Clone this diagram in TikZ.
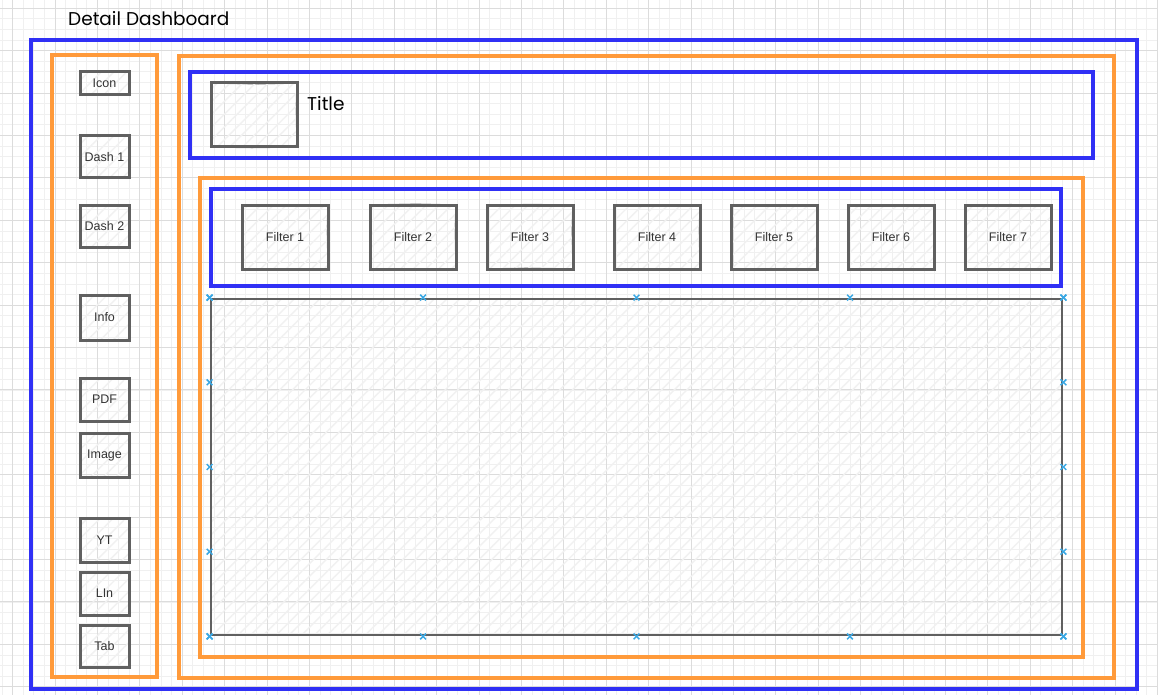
\documentclass[tikz,border=0pt]{standalone}
\usepackage{fontspec}
\setmainfont{Liberation Sans}
\newfontfamily\handfont{Poppins}
\usetikzlibrary{patterns.meta,decorations.pathmorphing,calc}
\definecolor{gblue}{HTML}{3030F5}
\definecolor{gorange}{HTML}{FF9A3A}
\definecolor{ggray}{HTML}{606060}
\definecolor{gridminor}{HTML}{F0F0F0}
\definecolor{gridmajor}{HTML}{DCDCDC}
\definecolor{xmark}{HTML}{3AA8E4}
\definecolor{hatch}{HTML}{F1F1F1}
\definecolor{txt}{HTML}{333333}
\pgfmathsetseed{4242}
\begin{document}
\begin{tikzpicture}[x=1pt,y=-1pt,
  wobble/.style={preaction={draw=#1, line width=1.2pt, opacity=0.55, decorate,
      decoration={random steps, segment length=40pt, amplitude=1.2pt}}},
  frameblue/.style={rectangle, inner sep=0pt, draw=gblue, line width=3.1pt, wobble=gblue},
  frameorange/.style={rectangle, inner sep=0pt, draw=gorange, line width=3.5pt, wobble=gorange},
  hatched/.style={pattern={Lines[angle=45,distance=9pt,line width=1.4pt]}, pattern color=hatch},
  btn/.style={rectangle, inner sep=0pt, draw=ggray, line width=3pt, wobble=ggray, hatched,
      text=txt, font=\fontsize{12.5}{14}\selectfont, minimum width=49pt},
  filt/.style={btn, minimum width=86pt, minimum height=64pt},
  content/.style={rectangle, inner sep=0pt, draw=ggray, line width=2.8pt, hatched},
  marker/.style={draw=xmark, line width=1.5pt},
  hand/.style={text=black, font=\handfont\fontsize{18.5}{20}\selectfont, inner sep=0pt, anchor=west}
]
\useasboundingbox (0,0) rectangle (1158,695);
\fill[white] (0,0) rectangle (1158,695);
% grid
\begin{scope}
\clip (0,0) rectangle (1158,695);
\foreach \i in {0,...,110} {\draw[gridminor, line width=0.8pt] ({2.0+10.6*\i},0) -- ({2.0+10.6*\i},695);}
\foreach \i in {0,...,66} {\draw[gridminor, line width=0.8pt] (0,{-2.3+10.6*\i}) -- (1158,{-2.3+10.6*\i});}
\foreach \i in {0,...,27} {\draw[gridmajor, line width=1pt] ({12.6+42.4*\i},0) -- ({12.6+42.4*\i},695);}
\foreach \i in {0,...,16} {\draw[gridmajor, line width=1pt] (0,{8.3+42.4*\i}) -- (1158,{8.3+42.4*\i});}
\end{scope}

\node[hand] (heading) at (68,19) {Detail Dashboard};

% frames
\node[frameblue, minimum width=1106pt, minimum height=649pt] (outer) at (584,364.5) {};
\node[frameorange, minimum width=105pt, minimum height=622pt] (sidebar) at (104.5,366) {};
\node[frameorange, minimum width=935pt, minimum height=622pt] (main) at (646.5,367) {};
\node[frameblue, minimum width=903pt, minimum height=86pt] (titlebar) at (641.5,115) {};
\node[btn, minimum width=86pt, minimum height=64pt] (titleimg) at (254,115) {};
\node[hand] (title) at (307,104) {Title};
\node[frameorange, minimum width=883pt, minimum height=479pt] (inner) at (641.5,417.5) {};
\node[frameblue, minimum width=850pt, minimum height=97pt] (filterbar) at (636,237.5) {};

% filters
\node[filt] (f1) at (285,237) {Filter 1};
\node[filt] (f2) at (413,237) {Filter 2};
\node[filt] (f3) at (530,237) {Filter 3};
\node[filt] (f4) at (657,237) {Filter 4};
\node[filt] (f5) at (774,237) {Filter 5};
\node[filt] (f6) at (891,237) {Filter 6};
\node[filt] (f7) at (1008,237) {Filter 7};

% content area
\node[content, minimum width=851pt, minimum height=336pt] (area) at (636.5,467) {};
\foreach \t in {0,0.25,0.5,0.75,1} {
  \coordinate (mt) at ($(area.north west)!\t!(area.north east)$);
  \coordinate (mb) at ($(area.south west)!\t!(area.south east)$);
  \coordinate (ml) at ($(area.north west)!\t!(area.south west)$);
  \coordinate (mr) at ($(area.north east)!\t!(area.south east)$);
  \foreach \p in {mt,mb,ml,mr} {
    \draw[marker] ($(\p)+(-2.9,-2.9)$) -- ($(\p)+(2.9,2.9)$);
    \draw[marker] ($(\p)+(-2.9,2.9)$) -- ($(\p)+(2.9,-2.9)$);
  }
}

% sidebar buttons
\node[btn, minimum height=23pt] (icon) at (104.5,83.5) {Icon};
\node[btn, minimum height=42pt] (dash1) at (104.5,157) {Dash 1};
\node[btn, minimum height=42pt] (dash2) at (104.5,226.5) {Dash 2};
\node[btn, minimum height=45pt] (info) at (104.5,317.5) {Info};
\node[btn, minimum height=43pt] (pdf) at (104.5,399.5) {PDF};
\node[btn, minimum height=44pt] (image) at (104.5,455) {Image};
\node[btn, minimum height=44pt] (yt) at (104.5,540) {YT};
\node[btn, minimum height=43pt] (lin) at (104.5,593.5) {LIn};
\node[btn, minimum height=42pt] (tab) at (104.5,646) {Tab};
\end{tikzpicture}
\end{document}
